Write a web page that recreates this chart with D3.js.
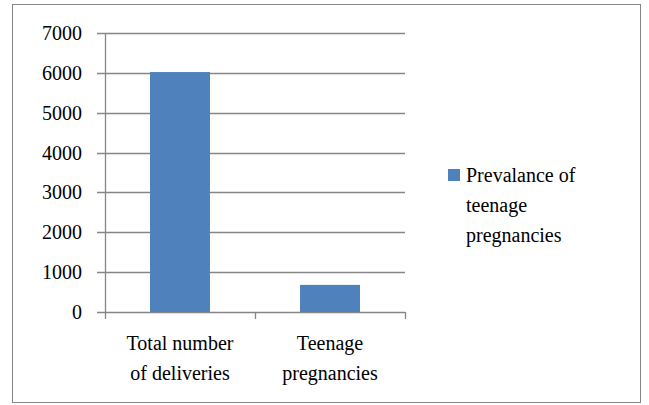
<!DOCTYPE html>
<html>
<head>
<meta charset="utf-8">
<script src="https://cdn.jsdelivr.net/npm/d3@7"></script>
</head>
<body style="margin:0">
<script>
// data
const categories = [["Total number", "of deliveries"], ["Teenage", "pregnancies"]];
const values = [6020, 680];
const yTicks = [0, 1000, 2000, 3000, 4000, 5000, 6000, 7000];
const seriesName = ["Prevalance of", "teenage", "pregnancies"];

const svg = d3.select("body").append("svg")
  .attr("width", 649)
  .attr("height", 405)
  .style("font-family", "Times New Roman");

// outer frame
svg.append("rect")
  .attr("x", 12.5).attr("y", 4.5)
  .attr("width", 628).attr("height", 398)
  .attr("fill", "none")
  .attr("stroke", "#868686");

const x = d3.scaleBand()
  .domain(d3.range(categories.length))
  .range([105, 405]);

const y = d3.scaleLinear()
  .domain([0, 7000])
  .range([312, 33]);

// gridlines
svg.append("g")
  .selectAll("line")
  .data(yTicks)
  .enter()
  .append("line")
  .attr("x1", 97).attr("x2", 405)
  .attr("y1", d => Math.round(y(d)) + 0.5)
  .attr("y2", d => Math.round(y(d)) + 0.5)
  .attr("stroke", "#868686")
  .attr("stroke-width", 1.3);

// bars, centered in band, 40% of band wide
svg.selectAll("rect.bar")
  .data(values)
  .enter()
  .append("rect")
  .attr("class", "bar")
  .attr("x", (d, i) => x(i) + x.bandwidth() * 0.3)
  .attr("y", d => y(d))
  .attr("width", x.bandwidth() * 0.4)
  .attr("height", d => y(0) - y(d))
  .attr("fill", "#4f81bd");

// y axis line
svg.append("line")
  .attr("x1", 105.5).attr("x2", 105.5)
  .attr("y1", y(7000)).attr("y2", y(0))
  .attr("stroke", "#868686")
  .attr("stroke-width", 1.3);

// x-axis ticks
svg.append("g")
  .selectAll("line")
  .data(d3.range(categories.length + 1))
  .enter()
  .append("line")
  .attr("x1", d => (d < categories.length ? x(d) : 405) + 0.5)
  .attr("x2", d => (d < categories.length ? x(d) : 405) + 0.5)
  .attr("y1", y(0))
  .attr("y2", y(0) + 7)
  .attr("stroke", "#868686")
  .attr("stroke-width", 1.3);

// y labels
svg.selectAll("text.ylab")
  .data(yTicks)
  .enter()
  .append("text")
  .attr("class", "ylab")
  .attr("x", 82)
  .attr("y", d => y(d) + 7)
  .attr("text-anchor", "end")
  .style("font-family", "Times New Roman")
  .attr("font-size", 20)
  .text(d => d);

// category labels, one text per line
const catLines = [];
categories.forEach((c, i) => c.forEach((t, j) => catLines.push({ t, i, j })));
svg.selectAll("text.xlab")
  .data(catLines)
  .enter()
  .append("text")
  .attr("class", "xlab")
  .attr("x", d => x(d.i) + x.bandwidth() / 2)
  .attr("y", d => 350 + d.j * 30)
  .attr("text-anchor", "middle")
  .style("font-family", "Times New Roman")
  .attr("font-size", 20)
  .text(d => d.t);

// legend
svg.append("rect")
  .attr("x", 448).attr("y", 169)
  .attr("width", 12).attr("height", 12)
  .attr("fill", "#4f81bd");

svg.selectAll("text.leg")
  .data(seriesName)
  .enter()
  .append("text")
  .attr("class", "leg")
  .attr("x", 466)
  .attr("y", (d, i) => 182 + i * 30)
  .style("font-family", "Times New Roman")
  .attr("font-size", 20)
  .text(d => d);
</script>
</body>
</html>
